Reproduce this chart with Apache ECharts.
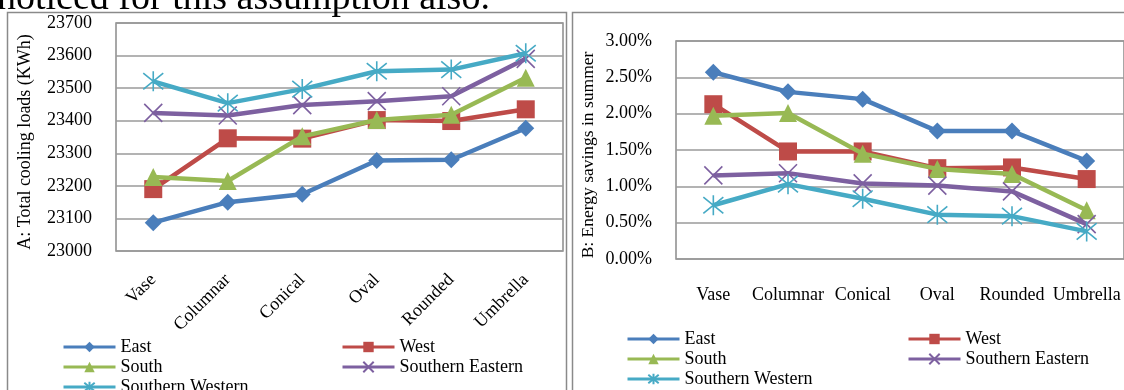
<!DOCTYPE html>
<html>
<head>
<meta charset="utf-8">
<script src="https://cdn.jsdelivr.net/npm/echarts@6/dist/echarts.min.js"></script>
<style>
  html, body { margin: 0; padding: 0; background: #fff; }
  #chart { width: 1124px; height: 390px; }
</style>
</head>
<body>
<div id="chart"></div>
<script>
const categories = ["Vase", "Columnar", "Conical", "Oval", "Rounded", "Umbrella"];
const seriesNames = ["East", "West", "South", "Southern Eastern", "Southern Western"];

// A: total cooling loads (KWh)
const loadEast = [23087, 23150, 23174, 23278, 23280, 23377];
const loadWest = [23190, 23346, 23345, 23402, 23399, 23435];
const loadSouth = [23227, 23215, 23352, 23402, 23418, 23532];
const loadSE = [23424, 23416, 23448, 23460, 23475, 23590];
const loadSW = [23521, 23454, 23497, 23552, 23557, 23607];

// B: energy savings in summer (%)
const saveEast = [2.57, 2.30, 2.20, 1.76, 1.76, 1.35];
const saveWest = [2.13, 1.48, 1.48, 1.25, 1.26, 1.10];
const saveSouth = [1.97, 2.01, 1.45, 1.24, 1.17, 0.67];
const saveSE = [1.15, 1.18, 1.04, 1.01, 0.93, 0.48];
const saveSW = [0.74, 1.03, 0.83, 0.61, 0.59, 0.38];

const loadTicks = { min: 23000, max: 23700, step: 100 };
const saveTicks = { min: 0, max: 3, step: 0.5 };

const colors = ["#4a7ebb", "#be4b48", "#98b954", "#7d60a0", "#46aac5"];
const symbols = [
  "diamond",
  "rect",
  "triangle",
  "path://M0,0L20,20M20,0L0,20",
  "path://M1,1L19,19M19,1L1,19M10,-1L10,21"
];
const symbolSizes = [17, 18, 18, 18, 20];

const FONT = '"Liberation Serif", "Times New Roman", serif';
const txt = { color: "#000", fontFamily: FONT, fontSize: 18 };

function makeSeries(dataSets, axisIndex) {
  return dataSets.map((d, i) => ({
    name: seriesNames[i],
    type: "line",
    xAxisIndex: axisIndex,
    yAxisIndex: axisIndex,
    data: d,
    symbol: symbols[i],
    symbolSize: symbolSizes[i],
    z: 2 + i,
    lineStyle: { color: colors[i], width: 4.5 },
    itemStyle: {
      color: colors[i],
      borderColor: colors[i],
      borderWidth: i >= 3 ? 1.6 : 0
    },
    emphasis: { disabled: true },
    animation: false
  }));
}

// one legend column
function legendCol(names, left, top) {
  return {
    data: names,
    orient: "vertical", left: left, top: top, height: 120,
    itemWidth: 52, itemHeight: 13, itemGap: 2,
    lineStyle: { width: 3 },
    textStyle: txt, selectedMode: false
  };
}

const chart = echarts.init(document.getElementById("chart"));

const option = {
  animation: false,
  textStyle: txt,
  graphic: [
    {
      type: "text",
      style: {
        x: -3, y: 18,
        text: "noticed for this assumption also.",
        font: '38px ' + FONT,
        fill: "#000",
        verticalAlign: "bottom"
      }
    },
    {
      type: "rect",
      shape: { x: 7.5, y: 12.5, width: 559, height: 420 },
      style: { fill: "none", stroke: "#8a8a8a", lineWidth: 1.5 },
      z: -1
    },
    {
      type: "rect",
      shape: { x: 572.5, y: 12.5, width: 570, height: 420 },
      style: { fill: "none", stroke: "#8a8a8a", lineWidth: 1.5 },
      z: -1
    },
    {
      type: "text",
      x: 25, y: 142,
      rotation: Math.PI / 2,
      style: {
        text: "A: Total cooling loads (KWh)",
        font: '18px ' + FONT,
        fill: "#000",
        align: "center",
        verticalAlign: "middle"
      }
    },
    {
      type: "text",
      x: 588, y: 155,
      rotation: Math.PI / 2,
      style: {
        text: "B: Energy savings in summer",
        font: '17.5px ' + FONT,
        fill: "#000",
        align: "center",
        verticalAlign: "middle"
      }
    }
  ],
  legend: [
    legendCol([seriesNames[0], seriesNames[2], seriesNames[4]], 57, 333),
    legendCol([seriesNames[1], seriesNames[3]], 336, 333),
    legendCol([seriesNames[0], seriesNames[2], seriesNames[4]], 621, 325),
    legendCol([seriesNames[1], seriesNames[3]], 902, 325)
  ],
  grid: [
    {
      left: 116, top: 23, width: 447, height: 228,
      show: true, borderColor: "#8a8a8a", borderWidth: 1.5
    },
    {
      left: 676, top: 41, width: 453, height: 218,
      show: true, borderColor: "#8a8a8a", borderWidth: 1.5
    }
  ],
  xAxis: [
    {
      type: "category", gridIndex: 0, data: categories, boundaryGap: true,
      axisLine: { show: false }, axisTick: { show: false },
      axisLabel: { ...txt, rotate: 45, margin: 26, interval: 0 }
    },
    {
      type: "category", gridIndex: 1, data: categories, boundaryGap: true,
      axisLine: { show: false }, axisTick: { show: false },
      axisLabel: { ...txt, margin: 27, interval: 0, hideOverlap: false }
    }
  ],
  yAxis: [
    {
      type: "value", gridIndex: 0,
      min: loadTicks.min, max: loadTicks.max, interval: loadTicks.step,
      axisLine: { show: false }, axisTick: { show: false },
      axisLabel: { ...txt, margin: 24, formatter: v => String(v) },
      splitLine: { lineStyle: { color: "#9a9a9a", width: 1.5 } }
    },
    {
      type: "value", gridIndex: 1,
      min: saveTicks.min, max: saveTicks.max, interval: saveTicks.step,
      axisLine: { show: false }, axisTick: { show: false },
      axisLabel: { ...txt, margin: 24, formatter: v => v.toFixed(2) + "%" },
      splitLine: { lineStyle: { color: "#9a9a9a", width: 1.5 } }
    }
  ],
  series: [
    ...makeSeries([loadEast, loadWest, loadSouth, loadSE, loadSW], 0),
    ...makeSeries([saveEast, saveWest, saveSouth, saveSE, saveSW], 1)
  ]
};

chart.setOption(option);
</script>
</body>
</html>
